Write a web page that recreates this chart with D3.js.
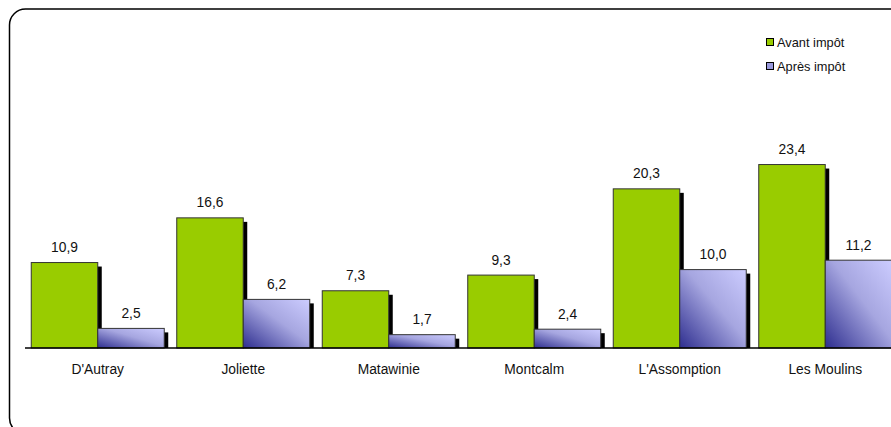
<!DOCTYPE html>
<html><head><meta charset="utf-8">
<script src="https://cdn.jsdelivr.net/npm/d3@7"></script>
<style>body{margin:0;background:#fff}svg{display:block;font-family:"Liberation Sans",Arial,sans-serif}</style>
</head><body><svg id="c" width="891" height="427"></svg>
<script>
const categories = ["D'Autray","Joliette","Matawinie","Montcalm","L'Assomption","Les Moulins"];
const seriesNames = ["Avant impôt","Après impôt"];
const avant = [10.9,16.6,7.3,9.3,20.3,23.4];
const apres = [2.5,6.2,1.7,2.4,10.0,11.2];
const valueLabels = v => v.toFixed(1).replace(".", ",");

const svg = d3.select("#c");
// frame
svg.append("rect").attr("x",9.5).attr("y",9).attr("width",900).attr("height",425)
  .attr("rx",16).attr("ry",16).attr("fill","#fff").attr("stroke","#000").attr("stroke-width",1.5);

const defs = svg.append("defs");
const g = defs.append("linearGradient").attr("id","blueGrad")
  .attr("x1","0").attr("y1","1").attr("x2","1").attr("y2","0");
g.append("stop").attr("offset","0").attr("stop-color","#2e2e8f");
g.append("stop").attr("offset","0.55").attr("stop-color","#a6a6e0");
g.append("stop").attr("offset","1").attr("stop-color","#ccccff");

const baseY = 348;
const x0 = d3.scaleBand().domain(categories).range([25, 898]).paddingInner(0).paddingOuter(0);
const inner = 6.25;
const x1 = d3.scaleBand().domain(seriesNames).range([inner, x0.bandwidth()-inner]).padding(0);
const y = d3.scaleLinear().domain([0, 25]).range([baseY, baseY - 25*7.84]);

const data = categories.map((c,i)=>({c, vals:[avant[i], apres[i]]}));
const fills = ["#99cc00","url(#blueGrad)"];

const groups = svg.append("g").selectAll("g").data(data).join("g")
  .attr("transform", d=>`translate(${x0(d.c)},0)`);

groups.selectAll("rect.sh").data(d=>d.vals.map((v,k)=>({v,k}))).join("rect")
  .attr("class","sh")
  .attr("x", d=>x1(seriesNames[d.k])+4)
  .attr("y", d=>y(d.v)+4)
  .attr("width", x1.bandwidth())
  .attr("height", d=>Math.max(0, baseY - y(d.v)-4))
  .attr("fill","#000");

groups.selectAll("rect.bar").data(d=>d.vals.map((v,k)=>({v,k}))).join("rect")
  .attr("class","bar")
  .attr("x", d=>x1(seriesNames[d.k]))
  .attr("y", d=>y(d.v))
  .attr("width", x1.bandwidth())
  .attr("height", d=>baseY - y(d.v))
  .attr("fill", d=>fills[d.k])
  .attr("stroke","#333").attr("stroke-width",1);

groups.selectAll("text.val").data(d=>d.vals.map((v,k)=>({v,k}))).join("text")
  .attr("class","val")
  .attr("x", d=>x1(seriesNames[d.k]) + x1.bandwidth()/2)
  .attr("y", d=>y(d.v) - 10.5)
  .attr("text-anchor","middle").attr("font-size",13.8).attr("fill","#111")
  .text(d=>valueLabels(d.v));

const axis = d3.axisBottom(x0).tickSize(0).tickPadding(16);
const ag = svg.append("g").attr("transform",`translate(0,${baseY})`).call(axis);
ag.select(".domain").attr("stroke","#000").attr("stroke-width",1.5).attr("d","M25,0H898");
ag.selectAll("text").attr("font-size",13.8).attr("fill","#111").attr("font-family","Liberation Sans, Arial, sans-serif");

const leg = svg.append("g").attr("transform","translate(766,0)");
const legFills = ["#99cc00","#9999dd"];
seriesNames.forEach((n,i)=>{
  const cy = 42 + i*24;
  leg.append("rect").attr("x",0.5).attr("y",cy-3.5).attr("width",7).attr("height",7)
    .attr("fill",legFills[i]).attr("stroke","#000").attr("stroke-width",1);
  leg.append("text").attr("x",11).attr("y",cy+4.5).attr("font-size",12.8).attr("fill","#111").text(n);
});
</script></body></html>
